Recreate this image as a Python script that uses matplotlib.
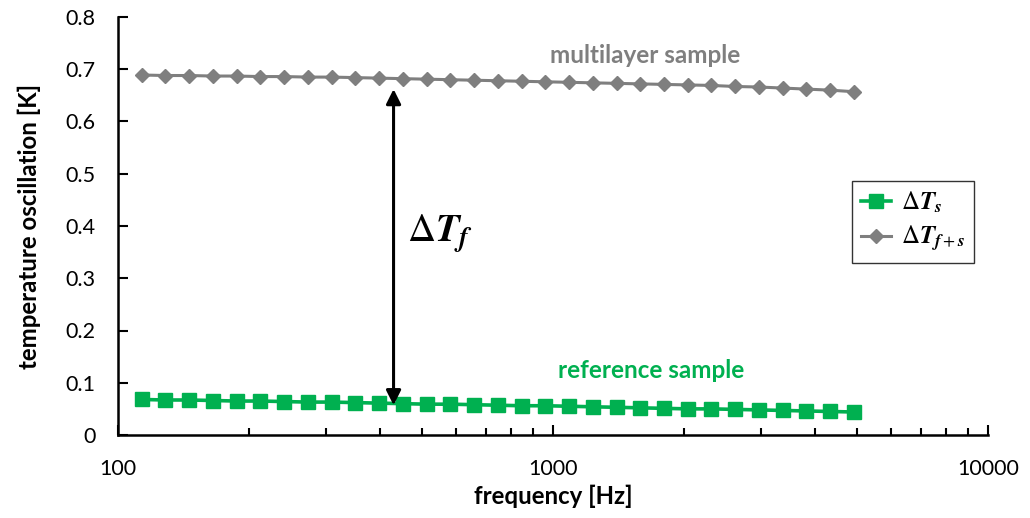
import matplotlib
matplotlib.use("Agg")
import matplotlib.pyplot as plt
from matplotlib.ticker import LogLocator, FixedLocator, NullFormatter

plt.rcParams["font.family"] = ["Lato", "DejaVu Sans"]
# Serif math: upright Greek, bold italic variables
plt.rcParams["mathtext.fontset"] = "custom"
plt.rcParams["mathtext.rm"] = "STIXGeneral"
plt.rcParams["mathtext.it"] = "STIXGeneral:bold:italic"
plt.rcParams["mathtext.bf"] = "STIXGeneral:bold"

# Measurement frequencies [Hz]
freq = [113.4, 128.5, 145.8, 165.3, 187.4, 212.5, 241.0, 273.3, 309.8, 351.3,
        398.4, 451.7, 512.2, 580.8, 658.6, 746.8, 846.8, 960.2, 1088.7, 1234.6,
        1399.9, 1587.4, 1800.0, 2041.0, 2314.0, 2624.0, 2976.0, 3374.0, 3826.0,
        4338.0, 4919.0]

# Temperature oscillation of the reference sample (substrate only) [K]
dT_s = [0.068, 0.067, 0.067, 0.066, 0.065, 0.065, 0.064, 0.063, 0.063, 0.062,
        0.061, 0.060, 0.059, 0.059, 0.058, 0.057, 0.056, 0.056, 0.055, 0.054,
        0.053, 0.052, 0.051, 0.050, 0.050, 0.049, 0.048, 0.047, 0.046, 0.045,
        0.044]

# Temperature oscillation of the multilayer sample (film + substrate) [K]
dT_fs = [0.689, 0.688, 0.688, 0.687, 0.687, 0.686, 0.686, 0.685, 0.685, 0.684,
         0.683, 0.682, 0.681, 0.680, 0.679, 0.678, 0.677, 0.676, 0.675, 0.674,
         0.673, 0.672, 0.671, 0.670, 0.669, 0.667, 0.666, 0.664, 0.662, 0.660,
         0.657]

GREEN = "#00B050"
GRAY = "#7F7F7F"

fig = plt.figure(figsize=(10.30, 5.18), dpi=100)
ax = fig.add_axes([118 / 1030, 83 / 518, 870 / 1030, 418 / 518])

ax.plot(freq, dT_s, color=GREEN, lw=2.6, marker="s", ms=10,
        mfc=GREEN, mec=GREEN, label=r"$\Delta T_s$", zorder=3)
ax.plot(freq, dT_fs, color=GRAY, lw=2.2, marker="D", ms=7.5,
        mfc=GRAY, mec=GRAY, label=r"$\Delta T_{f+s}$", zorder=3)

ax.set_xscale("log")
ax.set_xlim(100, 10000)
ax.set_ylim(0, 0.8)
ax.set_yticks([0, 0.1, 0.2, 0.3, 0.4, 0.5, 0.6, 0.7, 0.8])
ax.set_yticklabels(["0", "0.1", "0.2", "0.3", "0.4", "0.5", "0.6", "0.7", "0.8"])
ax.xaxis.set_major_locator(FixedLocator([100, 1000, 10000]))
ax.set_xticklabels(["100", "1000", "10000"])
ax.xaxis.set_minor_locator(LogLocator(base=10, subs=range(2, 10)))
ax.xaxis.set_minor_formatter(NullFormatter())

ax.tick_params(axis="both", which="major", direction="in", length=7,
               width=1.5, labelsize=15.5, colors="black")
ax.tick_params(axis="x", which="minor", direction="in", length=5, width=1.5)
ax.tick_params(axis="x", which="major", pad=17)
ax.tick_params(axis="y", which="major", pad=16)

for side in ("top", "right"):
    ax.spines[side].set_visible(False)
for side in ("left", "bottom"):
    ax.spines[side].set_linewidth(1.8)

ax.set_xlabel("frequency [Hz]", fontsize=17.3, fontweight="bold", labelpad=4)
ax.set_ylabel("temperature oscillation [K]", fontsize=17.3, fontweight="bold",
              labelpad=18)

# Double-headed arrow marking the film contribution
ax.annotate("", xy=(430, 0.662), xytext=(430, 0.057),
            arrowprops=dict(arrowstyle="<|-|>", color="black", lw=2.2,
                            mutation_scale=22, shrinkA=0, shrinkB=0))
ax.text(462, 0.385, r"$\Delta T_f$", fontsize=28,
        ha="left", va="center")

ax.text(1627, 0.727, "multilayer sample", color=GRAY, fontsize=17.5,
        fontweight="bold", ha="center", va="center")
ax.text(1680, 0.1225, "reference sample", color=GREEN, fontsize=17.5,
        fontweight="bold", ha="center", va="center")

leg = ax.legend(loc="upper left", bbox_to_anchor=(852 / 1030, 1 - 181 / 518),
                bbox_transform=fig.transFigure, fontsize=18, frameon=True,
                fancybox=False, edgecolor="black", handlelength=1.2,
                handletextpad=0.4, borderpad=0.35, labelspacing=0.35,
                borderaxespad=0)
leg.get_frame().set_linewidth(1.0)

fig.savefig("out.png", dpi=100)
